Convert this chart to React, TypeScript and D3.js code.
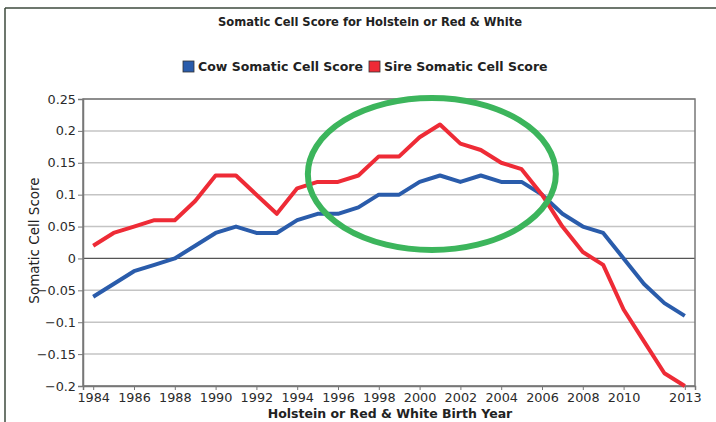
import { useEffect, useRef } from 'react';
import * as d3 from 'd3';

const years = d3.range(1984, 2014);
const cowScore = [
  -0.06, -0.04, -0.02, -0.01, 0.0, 0.02, 0.04, 0.05, 0.04, 0.04,
  0.06, 0.07, 0.07, 0.08, 0.1, 0.1, 0.12, 0.13, 0.12, 0.13,
  0.12, 0.12, 0.1, 0.07, 0.05, 0.04, 0.0, -0.04, -0.07, -0.09,
];
const sireScore = [
  0.02, 0.04, 0.05, 0.06, 0.06, 0.09, 0.13, 0.13, 0.1, 0.07,
  0.11, 0.12, 0.12, 0.13, 0.16, 0.16, 0.19, 0.21, 0.18, 0.17,
  0.15, 0.14, 0.1, 0.05, 0.01, -0.01, -0.08, -0.13, -0.18, -0.2,
];
const xTicks = [1984, 1986, 1988, 1990, 1992, 1994, 1996, 1998, 2000, 2002, 2004, 2006, 2008, 2010, 2013];
const yTicks = [-0.2, -0.15, -0.1, -0.05, 0, 0.05, 0.1, 0.15, 0.2, 0.25];
const seriesNames = ['Cow Somatic Cell Score', 'Sire Somatic Cell Score'];

const App = () => {
  const ref = useRef<SVGSVGElement>(null);

  useEffect(() => {
    const width = 716;
    const height = 422;
    const margin = { top: 99, right: 21, bottom: 36, left: 83 };
    const plotW = width - margin.left - margin.right;
    const plotH = height - margin.top - margin.bottom;
    const font = '"DejaVu Sans", Verdana, sans-serif';

    const svg = d3.select(ref.current);
    svg.selectAll('*').remove();

    svg.append('rect').attr('width', width).attr('height', height).attr('fill', '#fff');

    // cropped page frame (left + top only)
    svg.append('line').attr('x1', 5).attr('x2', width).attr('y1', 8).attr('y2', 8)
      .attr('stroke', '#3c4a3c').attr('stroke-width', 1.5);
    svg.append('line').attr('x1', 5).attr('x2', 5).attr('y1', 8).attr('y2', height)
      .attr('stroke', '#3c4a3c').attr('stroke-width', 1.5);

    // title
    svg.append('text')
      .attr('x', 370).attr('y', 26)
      .attr('text-anchor', 'middle')
      .style('font-family', '"DejaVu Sans Condensed", "DejaVu Sans", sans-serif')
      .style('font-weight', 'bold')
      .style('font-size', '12.8px')
      .style('fill', '#222')
      .text('Somatic Cell Score for Holstein or Red & White');

    const colors = ['#2a5cab', '#ee2b36'];

    // legend
    const legend = svg.append('g').style('font-family', font).style('font-size', '12.5px').style('font-weight', 'bold');
    const legendX = [183, 369];
    seriesNames.forEach((name, i) => {
      legend.append('rect')
        .attr('x', legendX[i]).attr('y', 61)
        .attr('width', 11).attr('height', 11)
        .attr('fill', colors[i]).attr('stroke', '#333').attr('stroke-width', 0.8);
      legend.append('text')
        .attr('x', legendX[i] + 15).attr('y', 71)
        .style('fill', '#222')
        .text(name);
    });

    const g = svg.append('g').attr('transform', `translate(${margin.left},${margin.top})`);

    const x = d3.scaleLinear().domain([1983.5, 2013.5]).range([0, plotW]);
    const y = d3.scaleLinear().domain([-0.2, 0.25]).range([plotH, 0]);

    // gridlines
    g.append('g')
      .selectAll('line')
      .data(yTicks)
      .join('line')
      .attr('x1', 0).attr('x2', plotW)
      .attr('y1', (d) => y(d)).attr('y2', (d) => y(d))
      .attr('stroke', (d) => (d === 0 ? '#555' : '#c4c4c4'))
      .attr('stroke-width', (d) => (d === 0 ? 1.2 : 1.5));

    // plot frame
    g.append('rect')
      .attr('width', plotW).attr('height', plotH)
      .attr('fill', 'none').attr('stroke', '#777').attr('stroke-width', 1.5);

    // axes
    const yAxis = g.append('g')
      .call(d3.axisLeft(y).tickValues(yTicks).tickFormat((d) => d3.format('')(+d)).tickSize(5).tickPadding(2));
    const xAxis = g.append('g')
      .attr('transform', `translate(0,${plotH})`)
      .call(d3.axisBottom(x).tickValues(xTicks).tickFormat(d3.format('d')).tickSize(4).tickPadding(3));
    [xAxis, yAxis].forEach((ax) => {
      ax.select('.domain').attr('stroke', '#777').attr('stroke-width', 1.5);
      ax.selectAll('.tick line').attr('stroke', '#777');
      ax.selectAll('text')
        .style('font-family', font)
        .style('font-size', '12.8px')
        .style('fill', '#2a2a2a');
    });

    // series lines
    const line = d3.line<number>()
      .x((_, i) => x(years[i]))
      .y((d) => y(d));
    [cowScore, sireScore].forEach((vals, i) => {
      g.append('path')
        .attr('d', line(vals))
        .attr('fill', 'none')
        .attr('stroke', colors[i])
        .attr('stroke-width', 4)
        .attr('stroke-linejoin', 'round');
    });

    // axis titles
    svg.append('text')
      .attr('transform', `translate(39,${margin.top + plotH / 2 - 2}) rotate(-90)`)
      .attr('text-anchor', 'middle')
      .style('font-family', font)
      .style('font-size', '13.5px')
      .style('fill', '#222')
      .text('Somatic Cell Score');
    svg.append('text')
      .attr('x', 390).attr('y', 418)
      .attr('text-anchor', 'middle')
      .style('font-family', font)
      .style('font-size', '12.5px')
      .style('font-weight', 'bold')
      .style('fill', '#222')
      .text('Holstein or Red & White Birth Year');

    // green highlight ellipse
    svg.append('ellipse')
      .attr('cx', x(2000.6) + margin.left).attr('cy', 174)
      .attr('rx', 124).attr('ry', 76)
      .attr('fill', 'none')
      .attr('stroke', '#3cb55c')
      .attr('stroke-width', 6);
  }, []);

  return (
    <div style={{ position: 'absolute', left: 0, top: 0 }}>
      <svg ref={ref} width={716} height={422} style={{ display: 'block' }} />
    </div>
  );
};

export default App;
